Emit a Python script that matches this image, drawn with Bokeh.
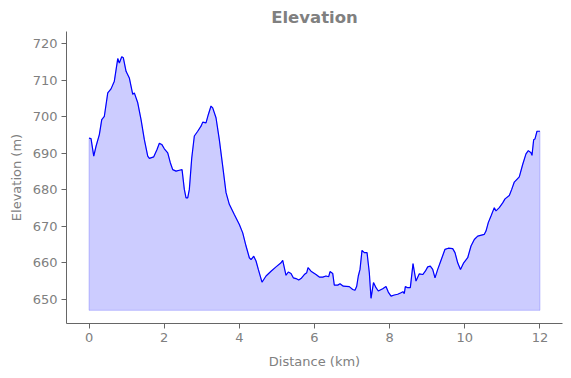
from bokeh.plotting import figure
from bokeh.models import FixedTicker, Range1d
from bokeh.embed import file_html
from bokeh.resources import INLINE

distance_km = [0.000, 0.053, 0.125, 0.186, 0.274, 0.338, 0.407, 0.498, 0.585, 0.673,
               0.764, 0.806, 0.870, 0.913, 0.985, 1.072, 1.163, 1.205, 1.296, 1.384,
               1.472, 1.562, 1.605, 1.722, 1.809, 1.871, 1.935, 2.004, 2.094, 2.163,
               2.227, 2.315, 2.429, 2.475, 2.536, 2.581, 2.626, 2.669, 2.733, 2.802,
               2.892, 2.980, 3.026, 3.113, 3.175, 3.246, 3.291, 3.379, 3.467, 3.558,
               3.646, 3.733, 3.866, 4.000, 4.090, 4.178, 4.266, 4.311, 4.383, 4.444,
               4.505, 4.603, 4.710, 4.843, 4.976, 5.109, 5.154, 5.242, 5.303, 5.375,
               5.436, 5.508, 5.580, 5.641, 5.729, 5.793, 5.828, 5.907, 6.040, 6.128,
               6.219, 6.306, 6.378, 6.413, 6.485, 6.527, 6.618, 6.679, 6.767, 6.926,
               7.017, 7.078, 7.123, 7.166, 7.211, 7.264, 7.326, 7.398, 7.459, 7.504,
               7.570, 7.637, 7.698, 7.815, 7.903, 7.964, 8.036, 8.124, 8.214, 8.302,
               8.355, 8.390, 8.417, 8.481, 8.550, 8.622, 8.656, 8.701, 8.789, 8.880,
               8.949, 9.013, 9.082, 9.146, 9.207, 9.279, 9.367, 9.473, 9.561, 9.678,
               9.739, 9.811, 9.885, 9.971, 10.077, 10.165, 10.253, 10.343, 10.519, 10.564,
               10.625, 10.697, 10.785, 10.830, 10.918, 11.008, 11.070, 11.184, 11.248, 11.317,
               11.450, 11.540, 11.628, 11.690, 11.762, 11.788, 11.833, 11.868, 11.921, 12.000]

elevation_m = [694.1, 694.0, 689.2, 691.9, 695.1, 699.2, 700.1, 706.5, 707.6, 709.7,
               715.9, 714.7, 716.4, 716.1, 712.4, 710.6, 706.1, 706.5, 703.8, 699.2,
               693.7, 689.2, 688.6, 689.0, 691.0, 692.7, 692.4, 691.2, 690.1, 687.4,
               685.5, 685.1, 685.4, 685.5, 680.1, 677.8, 677.8, 680.1, 688.7, 694.7,
               696.0, 697.4, 698.5, 698.3, 700.6, 702.9, 702.4, 699.7, 693.7, 686.4,
               679.2, 676.0, 673.2, 670.5, 668.2, 664.6, 661.4, 660.9, 661.8, 660.5,
               658.2, 654.7, 656.4, 657.7, 658.9, 660.0, 660.7, 656.6, 657.5, 657.1,
               655.9, 655.7, 655.3, 655.7, 656.8, 657.3, 658.7, 657.7, 656.8, 656.1,
               656.1, 656.4, 656.2, 657.6, 657.1, 653.9, 653.9, 654.3, 653.6, 653.5,
               652.7, 652.5, 653.6, 656.4, 658.2, 663.4, 662.8, 662.8, 657.3, 650.3,
               654.6, 653.2, 652.3, 652.9, 653.5, 652.0, 650.9, 651.2, 651.4, 651.8,
               652.1, 651.6, 653.5, 653.2, 653.2, 659.8, 657.7, 655.0, 657.0, 656.8,
               657.7, 658.9, 659.1, 658.2, 655.9, 658.2, 660.7, 663.7, 664.0, 663.9,
               662.8, 660.0, 658.2, 660.0, 661.4, 664.6, 666.4, 667.3, 667.8, 668.7,
               671.0, 672.8, 675.1, 674.2, 675.1, 676.4, 677.5, 678.4, 680.1, 682.1,
               683.5, 686.9, 689.8, 690.7, 690.1, 689.4, 693.7, 693.9, 696.0, 696.0]

fill_base = 647.0
x_ticks = [0, 2, 4, 6, 8, 10, 12]
y_ticks = [650, 660, 670, 680, 690, 700, 710, 720]

TEXT = "#808080"
SPINE = "#666666"

p = figure(output_backend="svg", toolbar_location=None,
           frame_width=496, frame_height=292,
           x_range=Range1d(-0.6, 12.6), y_range=Range1d(643.4, 723.3),
           title="Elevation", x_axis_label="Distance (km)", y_axis_label="Elevation (m)",
           min_border_left=66, min_border_right=1, min_border_top=24, min_border_bottom=46)

patch_x = [distance_km[0]] + distance_km + [distance_km[-1]]
patch_y = [fill_base] + elevation_m + [fill_base]
p.patch(patch_x, patch_y, fill_color="blue", fill_alpha=0.2,
        line_color="blue", line_alpha=0.2, line_width=1)
p.line(distance_km, elevation_m, line_color="blue", line_width=1.2)

p.title.align = "center"
p.title.text_color = TEXT
p.title.text_font = "DejaVu Sans"
p.title.text_font_size = "16.5px"
p.title.text_font_style = "bold"

p.xgrid.visible = False
p.ygrid.visible = False
p.outline_line_color = None

for ax in (p.xaxis[0], p.yaxis[0]):
    ax.axis_line_color = SPINE
    ax.major_tick_line_color = SPINE
    ax.minor_tick_line_color = None
    ax.major_tick_out = 5
    ax.major_tick_in = 0
    ax.major_label_text_color = TEXT
    ax.major_label_text_font = "DejaVu Sans"
    ax.major_label_text_font_size = "13px"
    ax.axis_label_text_color = TEXT
    ax.axis_label_text_font = "DejaVu Sans"
    ax.axis_label_text_font_size = "13px"
    ax.axis_label_text_font_style = "normal"
    ax.major_label_standoff = 4
    ax.axis_label_standoff = 6

p.xaxis[0].axis_label_standoff = 9
p.xaxis[0].ticker = FixedTicker(ticks=x_ticks)
p.yaxis[0].ticker = FixedTicker(ticks=y_ticks)

open("out.html", "w").write(file_html(p, INLINE))
